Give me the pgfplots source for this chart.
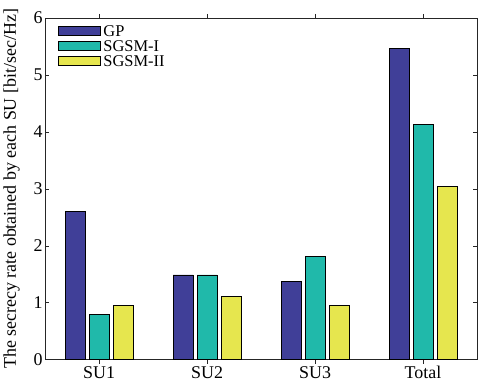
\documentclass[border=0pt]{standalone}
\usepackage{pgfplots}
\pgfplotsset{compat=1.18}
\usepackage{fontspec}
\setmainfont{Liberation Serif}
\definecolor{cGP}{RGB}{64,63,152}
\definecolor{cS1}{RGB}{32,185,170}
\definecolor{cS2}{RGB}{230,230,78}
\definecolor{axc}{RGB}{38,38,38}
\begin{document}
\begin{tikzpicture}
\begin{axis}[
  scale only axis, width=432bp, height=342bp,
  xmin=0.5, xmax=4.5, ymin=0, ymax=6,
  xtick={1,2,3,4}, xticklabels={SU1,SU2,SU3,Total},
  ytick={0,1,2,3,4,5,6},
  tick align=inside, tick pos=both, major tick length=4bp,
  axis line style={axc, line width=0.8bp},
  every tick/.style={axc, line width=0.8bp},
  tick label style={font=\fontsize{18}{20}\selectfont, text=black},
  yticklabel style={xshift=1bp},
  xticklabel style={yshift=1bp},
  /pgf/number format/assume math mode=true,
  ylabel={The secrecy rate obtained by each SU [bit/sec/Hz]},
  ylabel style={font=\fontsize{18}{20}\selectfont, at={(rel axis cs:0,0.5)}, anchor=south, yshift=22bp},
  ybar, bar width=0.185,
  legend style={at={(0.0285,0.981)}, anchor=north west, draw=none, fill=none,
    font=\fontsize{16.5}{18}\selectfont, row sep=3.5bp, column sep=3bp, inner sep=0pt,
    nodes={inner sep=0pt, text height=11.5bp, text depth=0bp}},
  legend cell align=left,
  legend image code/.code={\draw[#1, draw=black, line width=0.8bp] (0bp,-5bp) rectangle (42bp,4.5bp);},
]
\addplot[fill=cGP, draw=black, line width=0.8bp, bar shift=-0.222] coordinates {(1,2.60) (2,1.49) (3,1.37) (4,5.47)};
\addplot[fill=cS1, draw=black, line width=0.8bp, bar shift=0] coordinates {(1,0.80) (2,1.49) (3,1.82) (4,4.13)};
\addplot[fill=cS2, draw=black, line width=0.8bp, bar shift=0.222] coordinates {(1,0.96) (2,1.12) (3,0.95) (4,3.05)};
\legend{GP, SGSM-I, SGSM-II}
\path (rel axis cs:0,0) ++(-45bp,-24bp) coordinate (bbA);
\path (rel axis cs:1,1) ++(1bp,18bp) coordinate (bbB);
\end{axis}
\path[use as bounding box] (bbA) rectangle (bbB);
\end{tikzpicture}
\end{document}
